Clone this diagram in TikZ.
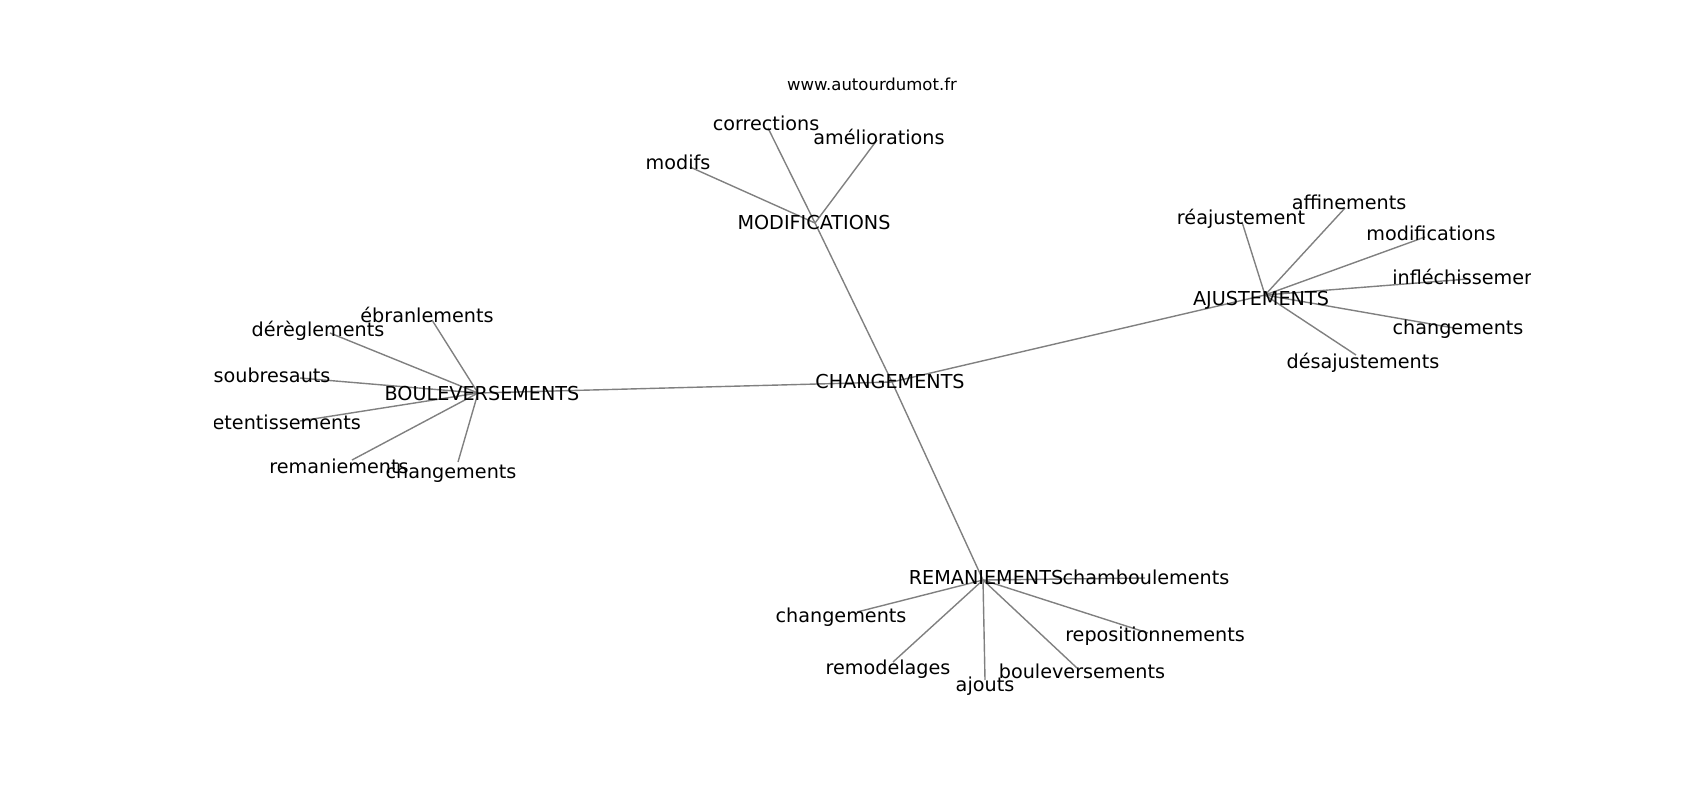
\documentclass[tikz,border=0pt]{standalone}
\usepackage{fontspec}
\setmainfont{DejaVu Sans}
\begin{document}
\begin{tikzpicture}[x=0.5pt,y=-0.5pt,
  lbl/.style={font=\fontsize{9.6pt}{11pt}\selectfont, inner sep=0pt, text height=0.72em, text depth=0pt, anchor=center},
  ttl/.style={font=\fontsize{8.25pt}{10pt}\selectfont, inner sep=0pt, text height=0.72em, text depth=0pt, anchor=center},
  edge/.style={draw=gray, line width=0.7pt}]
\useasboundingbox (0,0) rectangle (1700,800);
\node[ttl] (title) at (872,83) {www.autourdumot.fr};
\begin{scope}
\clip (214,96) rectangle (1530,712);
% hub points
\coordinate (pCH) at (892,382);
\coordinate (pMO) at (815,223);
\coordinate (pAJ) at (1265,295);
\coordinate (pBV) at (478,393);
\coordinate (pRE) at (983,580);
% MODIFICATIONS leaves
\coordinate (pmodifs) at (690,167);
\coordinate (pcorr) at (768,128);
\coordinate (pamel) at (877,140);
% AJUSTEMENTS leaves
\coordinate (preaj) at (1242,222);
\coordinate (paffi) at (1345,208);
\coordinate (pmodif) at (1425,237);
\coordinate (pinfl) at (1468,279);
\coordinate (pchAJ) at (1454,328);
\coordinate (pdesaj) at (1356,355);
% BOULEVERSEMENTS leaves
\coordinate (pebr) at (432,320);
\coordinate (pdereg) at (330,333);
\coordinate (psoub) at (300,378);
\coordinate (pret) at (300,421);
\coordinate (preman) at (352,460);
\coordinate (pchBV) at (458,462);
% REMANIEMENTS leaves
\coordinate (pcham) at (1145,578);
\coordinate (pchRE) at (857,612);
\coordinate (premod) at (893,662);
\coordinate (pajouts) at (985,680);
\coordinate (pboul) at (1077,668);
\coordinate (prepos) at (1148,633);
% edges
\draw[edge] (pCH) -- (pMO);
\draw[edge] (pCH) -- (pAJ);
\draw[edge] (pCH) -- (pBV);
\draw[edge] (pCH) -- (pRE);
\foreach \l in {pmodifs,pcorr,pamel} \draw[edge] (pMO) -- (\l);
\foreach \l in {preaj,paffi,pmodif,pinfl,pchAJ,pdesaj} \draw[edge] (pAJ) -- (\l);
\foreach \l in {pebr,pdereg,psoub,pret,preman,pchBV} \draw[edge] (pBV) -- (\l);
\foreach \l in {pcham,pchRE,premod,pajouts,pboul,prepos} \draw[edge] (pRE) -- (\l);
% labels
\node[lbl] (CH) at (890,381) {CHANGEMENTS};
\node[lbl] (MO) at (814,222) {MODIFICATIONS};
\node[lbl] (AJ) at (1261,298) {AJUSTEMENTS};
\node[lbl] (BV) at (482,393) {BOULEVERSEMENTS};
\node[lbl] (RE) at (986,577) {REMANIEMENTS};
\node[lbl] (modifs) at (678,162) {modifs};
\node[lbl] (corr) at (766,123) {corrections};
\node[lbl] (amel) at (879,137) {améliorations};
\node[lbl] (reaj) at (1241,217) {réajustement};
\node[lbl] (affi) at (1349,202) {affinements};
\node[lbl] (modif) at (1431,233) {modifications};
\node[lbl] (infl) at (1473,277) {infléchissements};
\node[lbl] (chAJ) at (1458,327) {changements};
\node[lbl] (desaj) at (1363,361) {désajustements};
\node[lbl] (ebr) at (427,315) {ébranlements};
\node[lbl] (dereg) at (318,329) {dérèglements};
\node[lbl] (soub) at (272,375) {soubresauts};
\node[lbl] (ret) at (283,422) {retentissements};
\node[lbl] (reman) at (339,466) {remaniements};
\node[lbl] (chBV) at (451,471) {changements};
\node[lbl] (cham) at (1146,577) {chamboulements};
\node[lbl] (chRE) at (841,615) {changements};
\node[lbl] (remod) at (888,667) {remodelages};
\node[lbl] (ajouts) at (985,684) {ajouts};
\node[lbl] (boul) at (1082,671) {bouleversements};
\node[lbl] (repos) at (1155,634) {repositionnements};
\end{scope}
\end{tikzpicture}
\end{document}
